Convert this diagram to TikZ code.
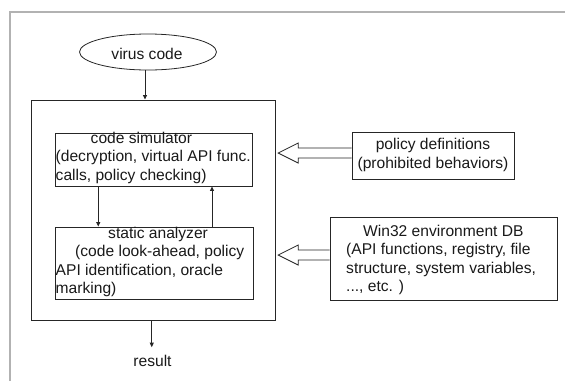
\documentclass[tikz,border=0pt]{standalone}
\usepackage{fontspec}
\setmainfont{Liberation Sans}
\usetikzlibrary{arrows.meta,calc,shapes.geometric}

\begin{document}
\begin{tikzpicture}[x=1pt,y=-1pt,
  box/.style={draw=black!85, line width=0.9pt, rectangle, inner sep=0pt},
  txt/.style={inner sep=0pt, anchor=base west, align=left, text=black!90,
    font=\fontsize{15.6}{18.4}\selectfont},
  flow/.style={draw=black!85, line width=0.8pt, -{Triangle[length=4.5pt,width=4pt]}},
  hollow/.style={draw=black!85, line width=0.8pt, fill=white, line join=miter},
  frame/.style={draw=black!30, line width=1.5pt}]
\useasboundingbox (0,0) rectangle (565,381);
\draw[frame] (10,381) -- (10,12) -- (565,12);

% boxes
\node[draw=black!85, line width=0.8pt, ellipse, minimum width=137pt, minimum height=36pt,
  inner sep=0pt] (virus) at (148,52) {};
\node[txt, anchor=base] (virustxt) at (147,59) {virus code};
\node[box, minimum width=243.5pt, minimum height=220pt] (engine) at (153.25,210) {};
\node[box, minimum width=197.5pt, minimum height=53pt] (sim) at (153.75,159.5) {};
\node[box, minimum width=198.5pt, minimum height=72pt] (ana) at (154.25,263) {};
\node[box, minimum width=162pt, minimum height=47pt] (pol) at (433,155.5) {};
\node[box, minimum width=227pt, minimum height=83pt] (env) at (443.5,258.5) {};

% texts (multi-line nodes are placed by the baseline of their last line)
\node[txt] (simtxt) at (55.5,180.1) {\hspace*{35pt}code simulator\\(decryption, virtual API func.\\calls, policy checking)};
\node[txt] (anatxt) at (55.5,293.5) {\hspace*{52.5pt}static analyzer\\\hspace*{19.5pt}(code look-ahead, policy\\API identification, oracle\\marking)};
\node[txt, align=center, anchor=base] (poltxt) at (433,168) {policy definitions\\(prohibited behaviors)};
\node[txt] (envtxt) at (346,291.7) {\hspace*{17pt}Win32 environment DB\\(API functions, registry, file\\structure, system variables,\\..., etc. )};
\node[txt, anchor=base] (res) at (152.5,366.7) {result};

% flow connectors
\draw[flow] ([xshift=-3pt]virus.south) -- ([xshift=-3pt]virus.south |- engine.north);
\draw[flow] ([xshift=-1.5pt]engine.south) -- ([xshift=-1.5pt,yshift=8pt]engine.south |- res.north);
\draw[flow] ([xshift=-55.5pt]sim.south) -- ([xshift=-55.5pt]sim.south |- ana.north);
\draw[flow] ([xshift=57.75pt]ana.north) -- ([xshift=57.75pt]ana.north |- sim.south);

% hollow input arrows
\coordinate (pa) at ([yshift=2.5pt]pol.west);
\draw[hollow] ($(pa)+(0,-5)$) -- ($(engine.east |- pa)+(22.7,-5)$) -- ++(0,-5)
  -- ($(engine.east |- pa)+(2.7,0)$) -- ++(20,10) -- ++(0,-5) -- ($(pa)+(0,5)$);
\coordinate (ea) at ([yshift=3.5pt]env.west);
\draw[hollow] ($(ea)+(0,-5)$) -- ($(engine.east |- ea)+(22.7,-5)$) -- ++(0,-5)
  -- ($(engine.east |- ea)+(2.7,0)$) -- ++(20,10) -- ++(0,-5) -- ($(ea)+(0,5)$);
\end{tikzpicture}
\end{document}
